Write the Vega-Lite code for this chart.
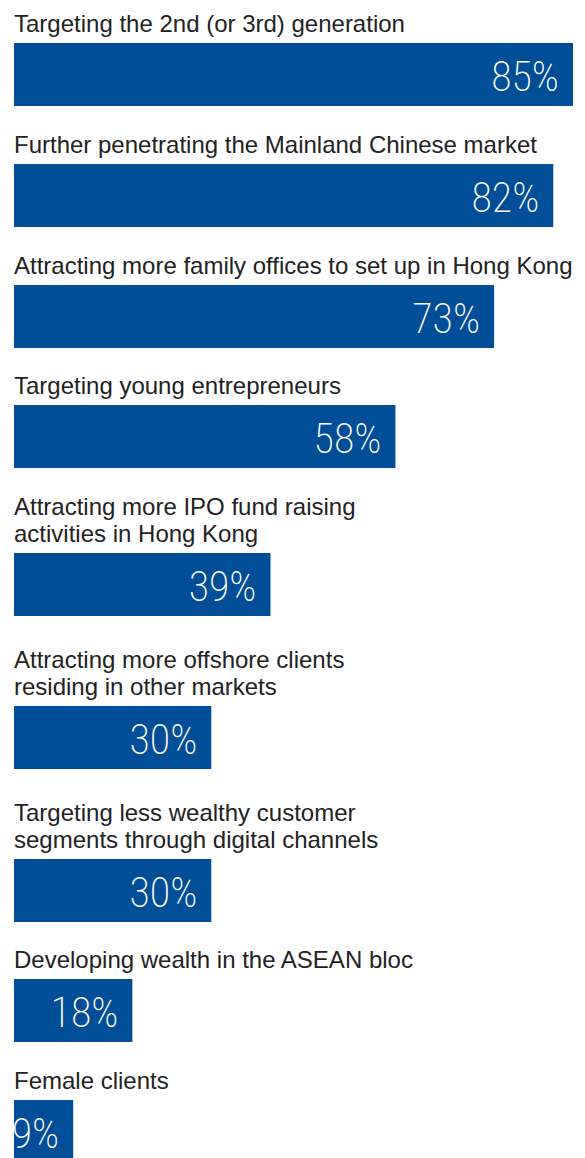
{
  "$schema": "https://vega.github.io/schema/vega-lite/v6.json",
  "padding": {"left": 11, "top": 13, "right": 0, "bottom": 0},
  "spacing": 6,
  "bounds": "flush",
  "background": "white",
  "config": {"view": {"stroke": null}},
  "data": {"values": [
    {"rank": 1, "label": "Targeting the 2nd (or 3rd) generation", "value": 0.85},
    {"rank": 2, "label": "Further penetrating the Mainland Chinese market", "value": 0.82},
    {"rank": 3, "label": "Attracting more family offices to set up in Hong Kong", "value": 0.73},
    {"rank": 4, "label": "Targeting young entrepreneurs", "value": 0.58},
    {"rank": 5, "label": "Attracting more IPO fund raising\nactivities in Hong Kong", "value": 0.39},
    {"rank": 6, "label": "Attracting more offshore clients\nresiding in other markets", "value": 0.30},
    {"rank": 7, "label": "Targeting less wealthy customer\nsegments through digital channels", "value": 0.30},
    {"rank": 8, "label": "Developing wealth in the ASEAN bloc", "value": 0.18},
    {"rank": 9, "label": "Female clients", "value": 0.09}
  ]},
  "vconcat": [
    {"transform": [{"filter": "datum.rank == 1"}], "width": 559, "height": 24, "mark": {"type": "text", "align": "left", "baseline": "top", "dy": -12, "lineBreak": "\n", "lineHeight": 27, "font": "Liberation Sans", "fontSize": 24, "color": "#222222"}, "encoding": {"x": {"datum": 0, "type": "quantitative", "axis": null, "scale": {"domain": [0, 0.85], "nice": false}}, "y": {"field": "label", "type": "nominal", "axis": null, "scale": {"paddingInner": 0, "paddingOuter": 0}}, "text": {"field": "label"}}},
    {"transform": [{"filter": "datum.rank == 1"}], "width": 559, "height": 63, "encoding": {"y": {"field": "label", "type": "nominal", "axis": null, "scale": {"paddingInner": 0, "paddingOuter": 0}}}, "layer": [
      {"mark": {"type": "bar", "color": "#004E98"}, "encoding": {"x": {"field": "value", "type": "quantitative", "axis": null, "scale": {"domain": [0, 0.85], "nice": false}}}},
      {"mark": {"type": "text", "align": "right", "baseline": "middle", "dx": -14, "dy": 3, "font": "Roboto Condensed, Liberation Sans Narrow, Roboto", "fontSize": 42, "fontWeight": 200, "color": "white"}, "encoding": {"x": {"field": "value", "type": "quantitative"}, "text": {"field": "value", "type": "quantitative", "format": ".0%"}}}
    ]},
    {"transform": [{"filter": "datum.rank == 2"}], "width": 559, "height": 46, "mark": {"type": "text", "align": "left", "baseline": "top", "dy": -1, "lineBreak": "\n", "lineHeight": 27, "font": "Liberation Sans", "fontSize": 24, "color": "#222222"}, "encoding": {"x": {"datum": 0, "type": "quantitative", "axis": null, "scale": {"domain": [0, 0.85], "nice": false}}, "y": {"field": "label", "type": "nominal", "axis": null, "scale": {"paddingInner": 0, "paddingOuter": 0}}, "text": {"field": "label"}}},
    {"transform": [{"filter": "datum.rank == 2"}], "width": 559, "height": 63, "encoding": {"y": {"field": "label", "type": "nominal", "axis": null, "scale": {"paddingInner": 0, "paddingOuter": 0}}}, "layer": [
      {"mark": {"type": "bar", "color": "#004E98"}, "encoding": {"x": {"field": "value", "type": "quantitative", "axis": null, "scale": {"domain": [0, 0.85], "nice": false}}}},
      {"mark": {"type": "text", "align": "right", "baseline": "middle", "dx": -14, "dy": 3, "font": "Roboto Condensed, Liberation Sans Narrow, Roboto", "fontSize": 42, "fontWeight": 200, "color": "white"}, "encoding": {"x": {"field": "value", "type": "quantitative"}, "text": {"field": "value", "type": "quantitative", "format": ".0%"}}}
    ]},
    {"transform": [{"filter": "datum.rank == 3"}], "width": 559, "height": 46, "mark": {"type": "text", "align": "left", "baseline": "top", "dy": -1, "lineBreak": "\n", "lineHeight": 27, "font": "Liberation Sans", "fontSize": 24, "color": "#222222"}, "encoding": {"x": {"datum": 0, "type": "quantitative", "axis": null, "scale": {"domain": [0, 0.85], "nice": false}}, "y": {"field": "label", "type": "nominal", "axis": null, "scale": {"paddingInner": 0, "paddingOuter": 0}}, "text": {"field": "label"}}},
    {"transform": [{"filter": "datum.rank == 3"}], "width": 559, "height": 63, "encoding": {"y": {"field": "label", "type": "nominal", "axis": null, "scale": {"paddingInner": 0, "paddingOuter": 0}}}, "layer": [
      {"mark": {"type": "bar", "color": "#004E98"}, "encoding": {"x": {"field": "value", "type": "quantitative", "axis": null, "scale": {"domain": [0, 0.85], "nice": false}}}},
      {"mark": {"type": "text", "align": "right", "baseline": "middle", "dx": -14, "dy": 3, "font": "Roboto Condensed, Liberation Sans Narrow, Roboto", "fontSize": 42, "fontWeight": 200, "color": "white"}, "encoding": {"x": {"field": "value", "type": "quantitative"}, "text": {"field": "value", "type": "quantitative", "format": ".0%"}}}
    ]},
    {"transform": [{"filter": "datum.rank == 4"}], "width": 559, "height": 45, "mark": {"type": "text", "align": "left", "baseline": "top", "dy": -1.5, "lineBreak": "\n", "lineHeight": 27, "font": "Liberation Sans", "fontSize": 24, "color": "#222222"}, "encoding": {"x": {"datum": 0, "type": "quantitative", "axis": null, "scale": {"domain": [0, 0.85], "nice": false}}, "y": {"field": "label", "type": "nominal", "axis": null, "scale": {"paddingInner": 0, "paddingOuter": 0}}, "text": {"field": "label"}}},
    {"transform": [{"filter": "datum.rank == 4"}], "width": 559, "height": 63, "encoding": {"y": {"field": "label", "type": "nominal", "axis": null, "scale": {"paddingInner": 0, "paddingOuter": 0}}}, "layer": [
      {"mark": {"type": "bar", "color": "#004E98"}, "encoding": {"x": {"field": "value", "type": "quantitative", "axis": null, "scale": {"domain": [0, 0.85], "nice": false}}}},
      {"mark": {"type": "text", "align": "right", "baseline": "middle", "dx": -14, "dy": 3, "font": "Roboto Condensed, Liberation Sans Narrow, Roboto", "fontSize": 42, "fontWeight": 200, "color": "white"}, "encoding": {"x": {"field": "value", "type": "quantitative"}, "text": {"field": "value", "type": "quantitative", "format": ".0%"}}}
    ]},
    {"transform": [{"filter": "datum.rank == 5"}], "width": 559, "height": 73, "mark": {"type": "text", "align": "left", "baseline": "top", "dy": -14.5, "lineBreak": "\n", "lineHeight": 26.5, "font": "Liberation Sans", "fontSize": 24, "color": "#222222"}, "encoding": {"x": {"datum": 0, "type": "quantitative", "axis": null, "scale": {"domain": [0, 0.85], "nice": false}}, "y": {"field": "label", "type": "nominal", "axis": null, "scale": {"paddingInner": 0, "paddingOuter": 0}}, "text": {"field": "label"}}},
    {"transform": [{"filter": "datum.rank == 5"}], "width": 559, "height": 63, "encoding": {"y": {"field": "label", "type": "nominal", "axis": null, "scale": {"paddingInner": 0, "paddingOuter": 0}}}, "layer": [
      {"mark": {"type": "bar", "color": "#004E98"}, "encoding": {"x": {"field": "value", "type": "quantitative", "axis": null, "scale": {"domain": [0, 0.85], "nice": false}}}},
      {"mark": {"type": "text", "align": "right", "baseline": "middle", "dx": -14, "dy": 3, "font": "Roboto Condensed, Liberation Sans Narrow, Roboto", "fontSize": 42, "fontWeight": 200, "color": "white"}, "encoding": {"x": {"field": "value", "type": "quantitative"}, "text": {"field": "value", "type": "quantitative", "format": ".0%"}}}
    ]},
    {"transform": [{"filter": "datum.rank == 6"}], "width": 559, "height": 78, "mark": {"type": "text", "align": "left", "baseline": "top", "dy": -12, "lineBreak": "\n", "lineHeight": 26.5, "font": "Liberation Sans", "fontSize": 24, "color": "#222222"}, "encoding": {"x": {"datum": 0, "type": "quantitative", "axis": null, "scale": {"domain": [0, 0.85], "nice": false}}, "y": {"field": "label", "type": "nominal", "axis": null, "scale": {"paddingInner": 0, "paddingOuter": 0}}, "text": {"field": "label"}}},
    {"transform": [{"filter": "datum.rank == 6"}], "width": 559, "height": 63, "encoding": {"y": {"field": "label", "type": "nominal", "axis": null, "scale": {"paddingInner": 0, "paddingOuter": 0}}}, "layer": [
      {"mark": {"type": "bar", "color": "#004E98"}, "encoding": {"x": {"field": "value", "type": "quantitative", "axis": null, "scale": {"domain": [0, 0.85], "nice": false}}}},
      {"mark": {"type": "text", "align": "right", "baseline": "middle", "dx": -14, "dy": 3, "font": "Roboto Condensed, Liberation Sans Narrow, Roboto", "fontSize": 42, "fontWeight": 200, "color": "white"}, "encoding": {"x": {"field": "value", "type": "quantitative"}, "text": {"field": "value", "type": "quantitative", "format": ".0%"}}}
    ]},
    {"transform": [{"filter": "datum.rank == 7"}], "width": 559, "height": 78, "mark": {"type": "text", "align": "left", "baseline": "top", "dy": -12, "lineBreak": "\n", "lineHeight": 26.5, "font": "Liberation Sans", "fontSize": 24, "color": "#222222"}, "encoding": {"x": {"datum": 0, "type": "quantitative", "axis": null, "scale": {"domain": [0, 0.85], "nice": false}}, "y": {"field": "label", "type": "nominal", "axis": null, "scale": {"paddingInner": 0, "paddingOuter": 0}}, "text": {"field": "label"}}},
    {"transform": [{"filter": "datum.rank == 7"}], "width": 559, "height": 63, "encoding": {"y": {"field": "label", "type": "nominal", "axis": null, "scale": {"paddingInner": 0, "paddingOuter": 0}}}, "layer": [
      {"mark": {"type": "bar", "color": "#004E98"}, "encoding": {"x": {"field": "value", "type": "quantitative", "axis": null, "scale": {"domain": [0, 0.85], "nice": false}}}},
      {"mark": {"type": "text", "align": "right", "baseline": "middle", "dx": -14, "dy": 3, "font": "Roboto Condensed, Liberation Sans Narrow, Roboto", "fontSize": 42, "fontWeight": 200, "color": "white"}, "encoding": {"x": {"field": "value", "type": "quantitative"}, "text": {"field": "value", "type": "quantitative", "format": ".0%"}}}
    ]},
    {"transform": [{"filter": "datum.rank == 8"}], "width": 559, "height": 45, "mark": {"type": "text", "align": "left", "baseline": "top", "dy": -1.5, "lineBreak": "\n", "lineHeight": 27, "font": "Liberation Sans", "fontSize": 24, "color": "#222222"}, "encoding": {"x": {"datum": 0, "type": "quantitative", "axis": null, "scale": {"domain": [0, 0.85], "nice": false}}, "y": {"field": "label", "type": "nominal", "axis": null, "scale": {"paddingInner": 0, "paddingOuter": 0}}, "text": {"field": "label"}}},
    {"transform": [{"filter": "datum.rank == 8"}], "width": 559, "height": 63, "encoding": {"y": {"field": "label", "type": "nominal", "axis": null, "scale": {"paddingInner": 0, "paddingOuter": 0}}}, "layer": [
      {"mark": {"type": "bar", "color": "#004E98"}, "encoding": {"x": {"field": "value", "type": "quantitative", "axis": null, "scale": {"domain": [0, 0.85], "nice": false}}}},
      {"mark": {"type": "text", "align": "right", "baseline": "middle", "dx": -14, "dy": 3, "font": "Roboto Condensed, Liberation Sans Narrow, Roboto", "fontSize": 42, "fontWeight": 200, "color": "white"}, "encoding": {"x": {"field": "value", "type": "quantitative"}, "text": {"field": "value", "type": "quantitative", "format": ".0%"}}}
    ]},
    {"transform": [{"filter": "datum.rank == 9"}], "width": 559, "height": 46, "mark": {"type": "text", "align": "left", "baseline": "top", "dy": -1, "lineBreak": "\n", "lineHeight": 27, "font": "Liberation Sans", "fontSize": 24, "color": "#222222"}, "encoding": {"x": {"datum": 0, "type": "quantitative", "axis": null, "scale": {"domain": [0, 0.85], "nice": false}}, "y": {"field": "label", "type": "nominal", "axis": null, "scale": {"paddingInner": 0, "paddingOuter": 0}}, "text": {"field": "label"}}},
    {"transform": [{"filter": "datum.rank == 9"}], "width": 559, "height": 63, "encoding": {"y": {"field": "label", "type": "nominal", "axis": null, "scale": {"paddingInner": 0, "paddingOuter": 0}}}, "layer": [
      {"mark": {"type": "bar", "color": "#004E98"}, "encoding": {"x": {"field": "value", "type": "quantitative", "axis": null, "scale": {"domain": [0, 0.85], "nice": false}}}},
      {"mark": {"type": "text", "align": "right", "baseline": "middle", "dx": -14, "dy": 3, "font": "Roboto Condensed, Liberation Sans Narrow, Roboto", "fontSize": 42, "fontWeight": 200, "color": "white"}, "encoding": {"x": {"field": "value", "type": "quantitative"}, "text": {"field": "value", "type": "quantitative", "format": ".0%"}}}
    ]}
  ]
}
